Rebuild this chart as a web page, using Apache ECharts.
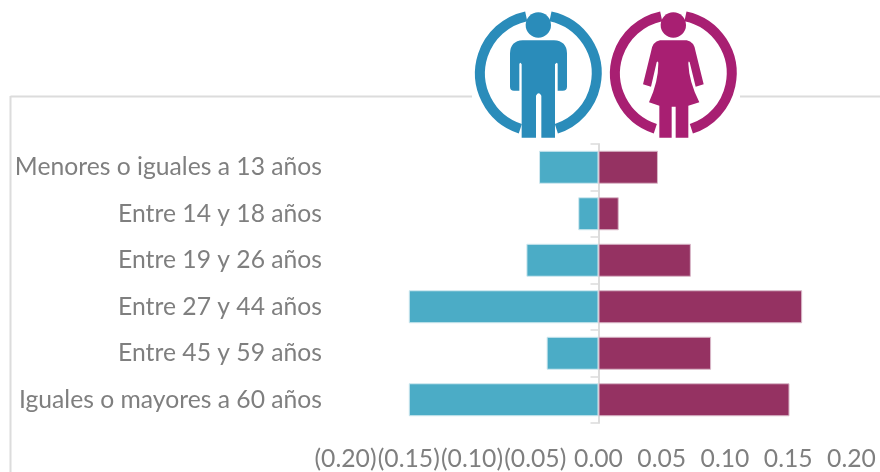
<!DOCTYPE html>
<html>
<head>
<meta charset="utf-8">
<style>html,body{margin:0;padding:0;background:#fff}#c{width:880px;height:472px}</style>
<script src="https://cdn.jsdelivr.net/npm/echarts@6/dist/echarts.min.js"></script>
</head>
<body>
<div id="c"></div>
<script>
const categories = ['Menores o iguales a 13 años','Entre 14 y 18 años','Entre 19 y 26 años','Entre 27 y 44 años','Entre 45 y 59 años','Iguales o mayores a 60 años'];
const hombres = [-0.047,-0.016,-0.057,-0.150,-0.041,-0.150];
const mujeres = [0.047,0.016,0.073,0.161,0.089,0.151];
const BLUE='#2a8cba', PINK='#a81f72', FONT='Lato, Carlito, sans-serif', GREY='#7f7f7f', RULE='#dcdcdc';

function ring(color){
  const a=Math.PI/180;
  return [
    {type:'arc',shape:{cx:205,cy:205,r:175,startAngle:-78*a,endAngle:72*a,clockwise:true},style:{stroke:color,lineWidth:30,fill:null}},
    {type:'arc',shape:{cx:205,cy:205,r:175,startAngle:108*a,endAngle:258*a,clockwise:true},style:{stroke:color,lineWidth:30,fill:null}},
    {type:'circle',shape:{cx:205,cy:60,r:38},style:{fill:color}}
  ];
}
const manPath='M158 106 L252 106 Q290 108 291 145 L291 245 Q291 257 278 257 L263 257 L263 178 Q262 168 255 178 L255 398 L214 398 L214 272 Q206 258 198 272 L198 398 L155 398 L155 178 Q150 168 148 178 L148 257 L132 257 Q120 257 120 245 L120 145 Q121 108 158 106 Z';
const womanPath='M165 106 L245 106 Q268 110 272 140 L296 238 L272 245 L254 172 Q250 165 250 176 Q252 230 283 292 L250 302 L250 398 L212 398 L212 305 L200 305 L200 398 L163 398 L163 302 L132 292 Q160 230 160 176 Q160 165 155 172 L138 245 L114 238 L138 140 Q142 110 165 106 Z';
echarts.graphic.registerShape('manFigure',echarts.graphic.extendPath(manPath,{}));
echarts.graphic.registerShape('womanFigure',echarts.graphic.extendPath(womanPath,{}));

const chart=echarts.init(document.getElementById('c'),null,{renderer:'canvas'});
chart.setOption({
  animation:false,
  backgroundColor:'#fff',
  grid:{left:345.5,right:28.5,top:144,bottom:49,outerBoundsMode:'none'},
  xAxis:{type:'value',min:-0.2,max:0.2,interval:0.05,splitLine:{show:false},axisLine:{show:false},axisTick:{show:false},
    axisLabel:{margin:24,color:GREY,fontFamily:FONT,fontSize:24.7,hideOverlap:false,showMinLabel:true,showMaxLabel:true,
      formatter:v=>v<-1e-9?'('+Math.abs(v).toFixed(2)+')':Math.abs(v).toFixed(2)}},
  yAxis:{type:'category',inverse:true,data:categories,
    axisLine:{show:true,onZero:true,lineStyle:{color:RULE,width:2}},
    axisTick:{show:true,length:8,lineStyle:{color:RULE,width:1.5}},
    axisLabel:{margin:23.5,color:GREY,fontFamily:FONT,fontSize:24.7,align:'right',interval:0}},
  series:[
    {name:'Hombres',type:'bar',data:hombres,barWidth:33,barGap:'-100%',z:1,itemStyle:{color:'#4bacc6',borderColor:'#cfe8ef',borderWidth:1}},
    {name:'Mujeres',type:'bar',data:mujeres,barWidth:33,z:1,itemStyle:{color:'#953262',borderColor:'#d9b8c8',borderWidth:1}}
  ],
  graphic:[
    {type:'line',shape:{x1:10.5,y1:96.5,x2:472,y2:96.5},style:{stroke:RULE,lineWidth:2}},
    {type:'line',shape:{x1:740,y1:96.5,x2:880,y2:96.5},style:{stroke:RULE,lineWidth:2}},
    {type:'line',shape:{x1:10.5,y1:96,x2:10.5,y2:472},style:{stroke:RULE,lineWidth:2}},
    {type:'group',x:470,y:5,scaleX:1/3,scaleY:1/3,children:[...ring(BLUE),{type:'manFigure',style:{fill:BLUE}}]},
    {type:'group',x:605,y:5,scaleX:1/3,scaleY:1/3,children:[...ring(PINK),{type:'womanFigure',style:{fill:PINK}}]}
  ]
});
</script>
</body>
</html>
